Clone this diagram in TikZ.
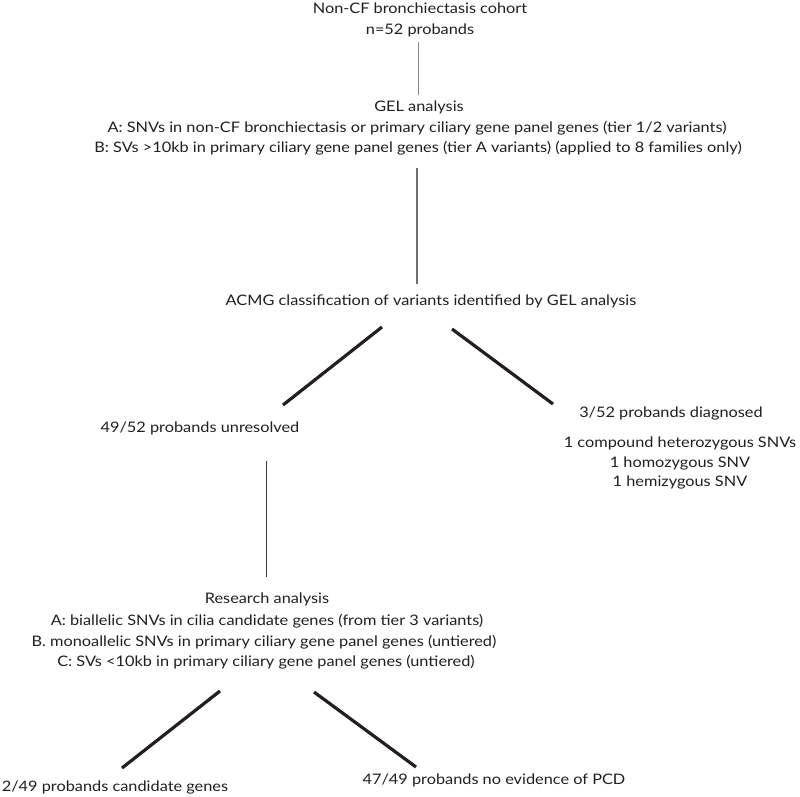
\documentclass[tikz,border=0pt]{standalone}
\usepackage{fontspec}
\setmainfont{Lato}[FakeStretch=1.125]
\definecolor{txt}{HTML}{231F20}
\definecolor{lgray}{HTML}{8A8A8A}
\definecolor{mgray}{HTML}{6E6E6E}
\begin{document}
\begin{tikzpicture}[x=1pt,y=-1pt,
  lbl/.style={anchor=base,inner sep=0pt,outer sep=0pt,text=txt,font=\fontsize{14.5}{17}\selectfont},
  thinline/.style={draw=lgray,line width=1pt},
  midline/.style={draw=mgray,line width=1.6pt},
  darkline/.style={draw=txt!90,line width=1pt},
  branch/.style={draw=txt,line width=3.2pt}]
\useasboundingbox[fill=white] (0,0) rectangle (800,796);
% text
\node[lbl] (top1) at (420,13.5) {Non-CF bronchiectasis cohort};
\node[lbl] (top2) at (420,34.5) {n=52 probands};
\node[lbl] (gel0) at (419,111.5) {GEL analysis};
\node[lbl] (gelA) at (417,132.5) {A: SNVs in non-CF bronchiectasis or primary ciliary gene panel genes (tier 1/2 variants)};
\node[lbl] (gelB) at (418,152.5) {B: SVs >10kb in primary ciliary gene panel genes (tier A variants) (applied to 8 families only)};
\node[lbl] (acmg) at (431,305.5) {ACMG classification of variants identified by GEL analysis};
\node[lbl] (unres) at (200,432.5) {49/52 probands unresolved};
\node[lbl] (diag) at (671,417.5) {3/52 probands diagnosed};
\node[lbl] (diag1) at (680,447.5) {1 compound heterozygous SNVs};
\node[lbl] (diag2) at (680,467.5) {1 homozygous SNV};
\node[lbl] (diag3) at (680,486.5) {1 hemizygous SNV};
\node[lbl] (res0) at (267,603.5) {Research analysis};
\node[lbl] (resA) at (267,625.5) {A: biallelic SNVs in cilia candidate genes (from tier 3 variants)};
\node[lbl] (resB) at (264,646.5) {B. monoallelic SNVs in primary ciliary gene panel genes (untiered)};
\node[lbl] (resC) at (266,666.5) {C: SVs <10kb in primary ciliary gene panel genes (untiered)};
\node[lbl] (cand) at (115,791.5) {2/49 probands candidate genes};
\node[lbl] (nopcd) at (494,784.5) {47/49 probands no evidence of PCD};
% connector end points
\coordinate (l1a) at (418,42);
\coordinate (l1b) at (418,95);
\coordinate (l2a) at (417,168);
\coordinate (l2b) at (417,284);
\coordinate (d1a) at (382,327);
\coordinate (d1b) at (283,405);
\coordinate (d2a) at (452,329);
\coordinate (d2b) at (553,404);
\coordinate (l3a) at (266,461);
\coordinate (l3b) at (266,577);
\coordinate (d3a) at (220,691);
\coordinate (d3b) at (122,768);
\coordinate (d4a) at (314,692);
\coordinate (d4b) at (416,767);
% connectors
\draw[thinline] (l1a) -- (l1b);
\draw[midline] (l2a) -- (l2b);
\draw[branch] (d1a) -- (d1b);
\draw[branch] (d2a) -- (d2b);
\draw[darkline] (l3a) -- (l3b);
\draw[branch] (d3a) -- (d3b);
\draw[branch] (d4a) -- (d4b);
\end{tikzpicture}
\end{document}
